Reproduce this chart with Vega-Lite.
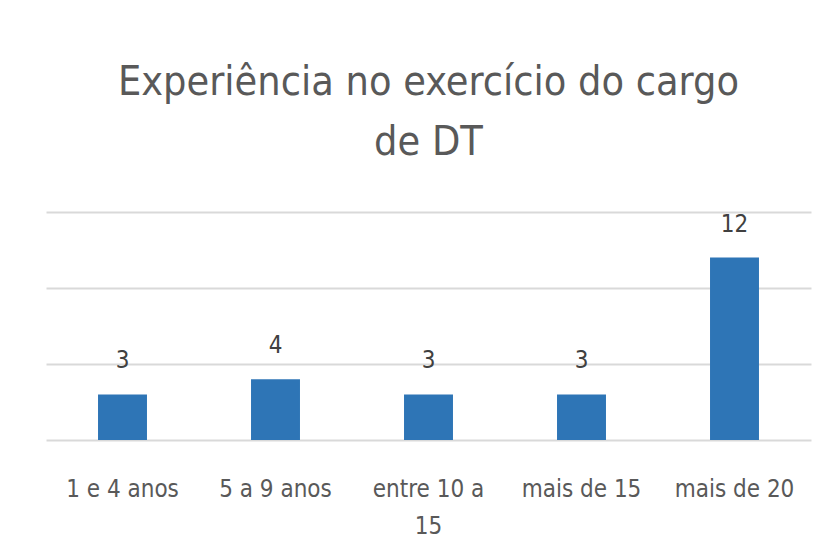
{
  "$schema": "https://vega.github.io/schema/vega-lite/v6.json",
  "width": 765,
  "height": 228,
  "autosize": {"type": "none"},
  "padding": {"left": 46, "top": 212, "right": 24, "bottom": 117},
  "background": "white",
  "title": {
    "text": ["Experiência  no exercício do cargo", "de DT"],
    "font": "DejaVu Sans Condensed, sans-serif",
    "fontSize": 41,
    "fontWeight": "normal",
    "color": "#595959",
    "anchor": "middle",
    "lineHeight": 60,
    "offset": 48
  },
  "data": {
    "values": [
      {"categoria": "1 e 4 anos", "valor": 3},
      {"categoria": "5 a 9 anos", "valor": 4},
      {"categoria": "entre 10 a 15", "valor": 3},
      {"categoria": "mais de 15", "valor": 3},
      {"categoria": "mais de 20", "valor": 12}
    ]
  },
  "encoding": {
    "x": {
      "field": "categoria",
      "type": "nominal",
      "sort": null,
      "scale": {"paddingInner": 0.68, "paddingOuter": 0.34},
      "axis": {
        "title": null,
        "labelAngle": 0,
        "domain": false,
        "ticks": false,
        "labelPadding": 37,
        "labelFont": "DejaVu Sans Condensed, sans-serif",
        "labelFontSize": 24,
        "labelColor": "#595959",
        "labelLineHeight": 37,
        "labelBaseline": "top",
        "labelExpr": "datum.value == 'entre 10 a 15' ? ['entre 10 a', '15'] : datum.value"
      }
    },
    "y": {
      "field": "valor",
      "type": "quantitative",
      "scale": {"domain": [0, 15], "nice": false},
      "axis": {
        "title": null,
        "labels": false,
        "ticks": false,
        "domain": false,
        "values": [0, 5, 10, 15],
        "grid": true,
        "gridColor": "#d9d9d9",
        "gridWidth": 2
      }
    }
  },
  "layer": [
    {"mark": {"type": "bar", "color": "#2e75b6"}},
    {
      "mark": {
        "type": "text",
        "dy": -21,
        "baseline": "bottom",
        "font": "DejaVu Sans Condensed, sans-serif",
        "fontSize": 24,
        "color": "#404040"
      },
      "encoding": {"text": {"field": "valor", "type": "quantitative"}}
    }
  ],
  "config": {"view": {"stroke": null}}
}
